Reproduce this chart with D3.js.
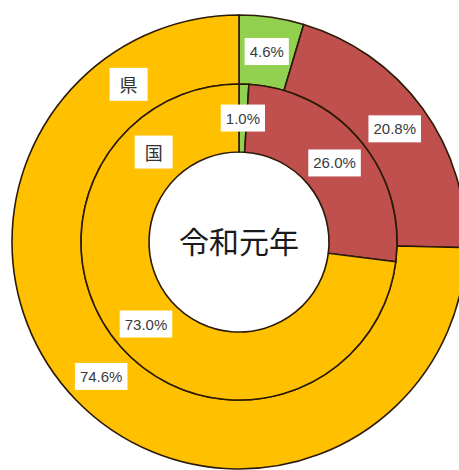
<!DOCTYPE html>
<html>
<head>
<meta charset="utf-8">
<script src="https://cdn.jsdelivr.net/npm/d3@7"></script>
<style>
  html, body { margin: 0; padding: 0; background: #fff; }
  svg { display: block; }
</style>
</head>
<body>
<svg id="chart" width="459" height="470"></svg>
<script>
// Shares by category, clockwise from 12 o'clock
const categories = ["A", "B", "C"];
const rings = ["県", "国"];
const prefValues = [4.6, 20.8, 74.6];     // 県 (outer ring)
const nationValues = [1.0, 26.0, 73.0];   // 国 (inner ring)
const centerTitle = "令和元年";
const colors = ["#92D050", "#C0504D", "#FFC000"];

const W = 459, H = 470;
const cx = 239, cy = 242;
const rHole = 90, rMid = 158, rOuter = 227;

const svg = d3.select("#chart");
const g = svg.append("g").attr("transform", `translate(${cx},${cy})`);

const pie = d3.pie().sort(null).value(d => d.value);
const color = d3.scaleOrdinal().domain(categories).range(colors);

const ringDefs = [
  { name: rings[0], values: prefValues, inner: rMid, outer: rOuter, nameAngle: -35 },
  { name: rings[1], values: nationValues, inner: rHole, outer: rMid, nameAngle: -43.5 }
];

ringDefs.forEach(ring => {
  const data = categories.map((c, i) => ({ cat: c, value: ring.values[i] }));
  const arcs = pie(data);
  const arc = d3.arc().innerRadius(ring.inner).outerRadius(ring.outer);
  ring.arcs = arcs;
  ring.arc = arc;
  g.append("g").selectAll("path")
    .data(arcs)
    .join("path")
    .attr("d", arc)
    .attr("fill", d => color(d.data.cat))
    .attr("stroke", "#2b1a08")
    .attr("stroke-width", 1.6);
});

// Boxed text label
function boxedLabel(x, y, text, opts) {
  const lg = g.append("g").attr("transform", `translate(${x},${y})`);
  const rect = lg.append("rect").attr("fill", "#fff");
  const t = lg.append("text")
    .attr("text-anchor", "middle")
    .attr("dominant-baseline", "central")
    .attr("font-family", opts.font)
    .attr("font-size", opts.size)
    .attr("fill", opts.color)
    .text(text);
  const bb = t.node().getBBox();
  rect.attr("x", -bb.width / 2 - opts.padX)
    .attr("y", -opts.boxH / 2)
    .attr("width", bb.width + opts.padX * 2)
    .attr("height", opts.boxH);
}

// Value labels at each slice centroid
ringDefs.forEach(ring => {
  ring.arcs.forEach(a => {
    const [x, y] = ring.arc.centroid(a);
    boxedLabel(x, y, a.data.value.toFixed(1) + "%", {
      font: "'Liberation Sans', Arial, sans-serif", size: 15, color: "#3a3a3a", padX: 5, boxH: 27
    });
  });
  // Ring name label
  const rr = (ring.inner + ring.outer) / 2;
  const ang = ring.nameAngle * Math.PI / 180;
  boxedLabel(rr * Math.sin(ang), -rr * Math.cos(ang), ring.name, {
    font: "'Noto Sans CJK JP', sans-serif", size: 18, color: "#333", padX: 10, boxH: 33
  });
});

// Center title
g.append("text")
  .attr("text-anchor", "middle")
  .attr("dominant-baseline", "central")
  .attr("y", -2)
  .attr("font-family", "'Noto Sans CJK JP', sans-serif")
  .attr("font-size", 30)
  .attr("fill", "#1a1a1a")
  .text(centerTitle);
</script>
</body>
</html>
